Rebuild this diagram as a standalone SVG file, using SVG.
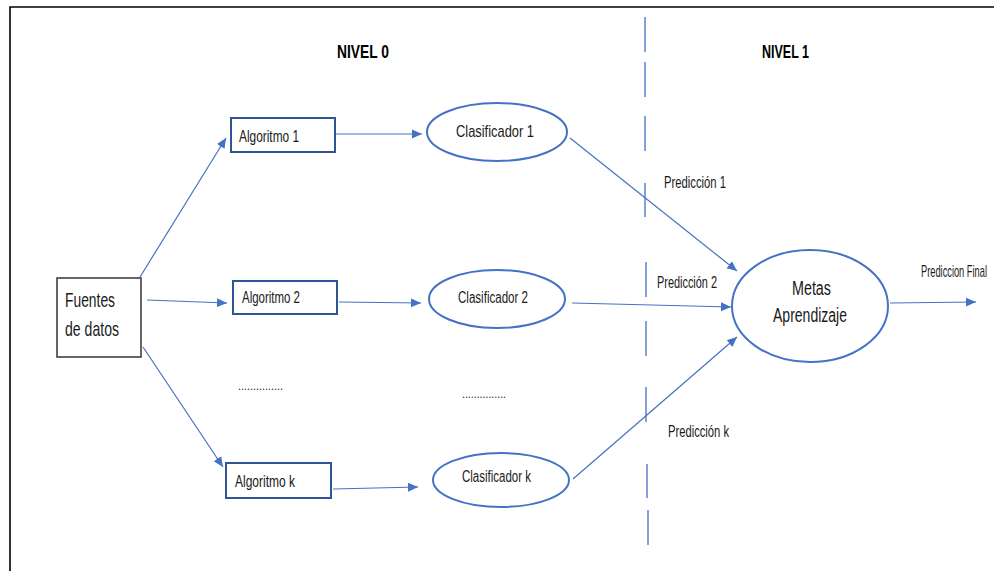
<svg xmlns="http://www.w3.org/2000/svg" width="994" height="571" viewBox="0 0 994 571">
<defs>
<marker id="ah" markerUnits="userSpaceOnUse" markerWidth="10" markerHeight="10" viewBox="0 0 10 10" refX="10" refY="5" orient="auto">
<path d="M0,0.5 L10,5 L0,9.5 Z" fill="#4472C4"/>
</marker>
<style>
.t{font-family:"Liberation Sans Narrow","Liberation Sans",Arial,sans-serif;fill:#1a1a1a}
.b{font-weight:bold;fill:#000}
.box{fill:#fff;stroke:#2F5597;stroke-width:2}
.ell{fill:#fff;stroke:#4472C4;stroke-width:2}
.c{stroke:#4472C4;stroke-width:1.2;fill:none;marker-end:url(#ah)}
.dash{stroke:#4472C4;stroke-width:1.3;fill:none}
</style>
</defs>
<rect width="994" height="571" fill="#fff"/>
<path d="M10,571 L10,7 L994,7" fill="none" stroke="#000" stroke-width="1.6"/>

<g id="divider">
<path class="dash" d="M645,17 V52 M645,62 V97 M645,116 V151 M645,183 V217 M646,262 V297 M646,321 V356 M646,387 V422 M647,464 V498 M648,510 V545"/>
</g>

<g id="titles">
<text class="t b" x="337" y="58" font-size="19" textLength="52" lengthAdjust="spacingAndGlyphs">NIVEL 0</text>
<text class="t b" x="762" y="58" font-size="19" textLength="47" lengthAdjust="spacingAndGlyphs">NIVEL 1</text>
</g>

<g id="connectors">
<line class="c" x1="140" y1="277" x2="226" y2="138"/>
<line class="c" x1="147" y1="300" x2="227" y2="303"/>
<line class="c" x1="143" y1="347" x2="223" y2="467"/>
<line class="c" x1="335" y1="134" x2="422" y2="134"/>
<line class="c" x1="339" y1="302" x2="421" y2="303"/>
<line class="c" x1="333" y1="489" x2="418" y2="487"/>
<line class="c" x1="570" y1="138" x2="737" y2="271"/>
<line class="c" x1="572" y1="303" x2="731" y2="307"/>
<line class="c" x1="573" y1="479" x2="737" y2="337"/>
<line class="c" x1="890" y1="303" x2="976" y2="302"/>
</g>

<g id="labels">
<text class="t" x="664" y="188" font-size="16" textLength="62" lengthAdjust="spacingAndGlyphs">Predicción 1</text>
<text class="t" x="657" y="288" font-size="16" textLength="60" lengthAdjust="spacingAndGlyphs">Predicción 2</text>
<text class="t" x="668" y="437" font-size="16" textLength="61" lengthAdjust="spacingAndGlyphs">Predicción k</text>
<text class="t" transform="translate(921,277) scale(0.58,1)" font-size="16">Prediccion Final</text>
<text class="t" x="238" y="390" font-size="13" textLength="45" lengthAdjust="spacingAndGlyphs">...............</text>
<text class="t" x="462" y="398" font-size="13" textLength="44" lengthAdjust="spacingAndGlyphs">...............</text>
</g>

<g id="fuentes">
<rect x="57" y="278" width="84" height="79" fill="#fff" stroke="#404040" stroke-width="1.6"/>
<text class="t" x="65" y="307" font-size="21" textLength="50" lengthAdjust="spacingAndGlyphs">Fuentes</text>
<text class="t" x="65" y="336" font-size="21" textLength="54" lengthAdjust="spacingAndGlyphs">de datos</text>
</g>

<g id="algoritmo1">
<rect class="box" x="231" y="118" width="104" height="34"/>
<text class="t" x="239" y="142" font-size="16" textLength="60" lengthAdjust="spacingAndGlyphs">Algoritmo 1</text>
</g>
<g id="algoritmo2">
<rect class="box" x="233" y="281" width="104" height="33"/>
<text class="t" x="242" y="303" font-size="16" textLength="58" lengthAdjust="spacingAndGlyphs">Algoritmo 2</text>
</g>
<g id="algoritmok">
<rect class="box" x="226" y="463" width="105" height="35"/>
<text class="t" x="235" y="487" font-size="16" textLength="60" lengthAdjust="spacingAndGlyphs">Algoritmo  k</text>
</g>

<g id="clasificador1">
<ellipse class="ell" cx="497" cy="132" rx="70" ry="29"/>
<text class="t" x="456" y="137" font-size="17" textLength="78" lengthAdjust="spacingAndGlyphs">Clasificador 1</text>
</g>
<g id="clasificador2">
<ellipse class="ell" cx="497" cy="299" rx="68" ry="29"/>
<text class="t" x="458" y="303" font-size="16" textLength="70" lengthAdjust="spacingAndGlyphs">Clasificador 2</text>
</g>
<g id="clasificadork">
<ellipse class="ell" cx="501" cy="480" rx="68" ry="27"/>
<text class="t" x="462" y="482" font-size="16" textLength="69" lengthAdjust="spacingAndGlyphs">Clasificador k</text>
</g>

<g id="metas">
<ellipse class="ell" cx="810" cy="306" rx="78" ry="56"/>
<text class="t" x="792" y="295" font-size="20" textLength="39" lengthAdjust="spacingAndGlyphs">Metas</text>
<text class="t" x="773" y="322" font-size="20" textLength="74" lengthAdjust="spacingAndGlyphs">Aprendizaje</text>
</g>
</svg>
